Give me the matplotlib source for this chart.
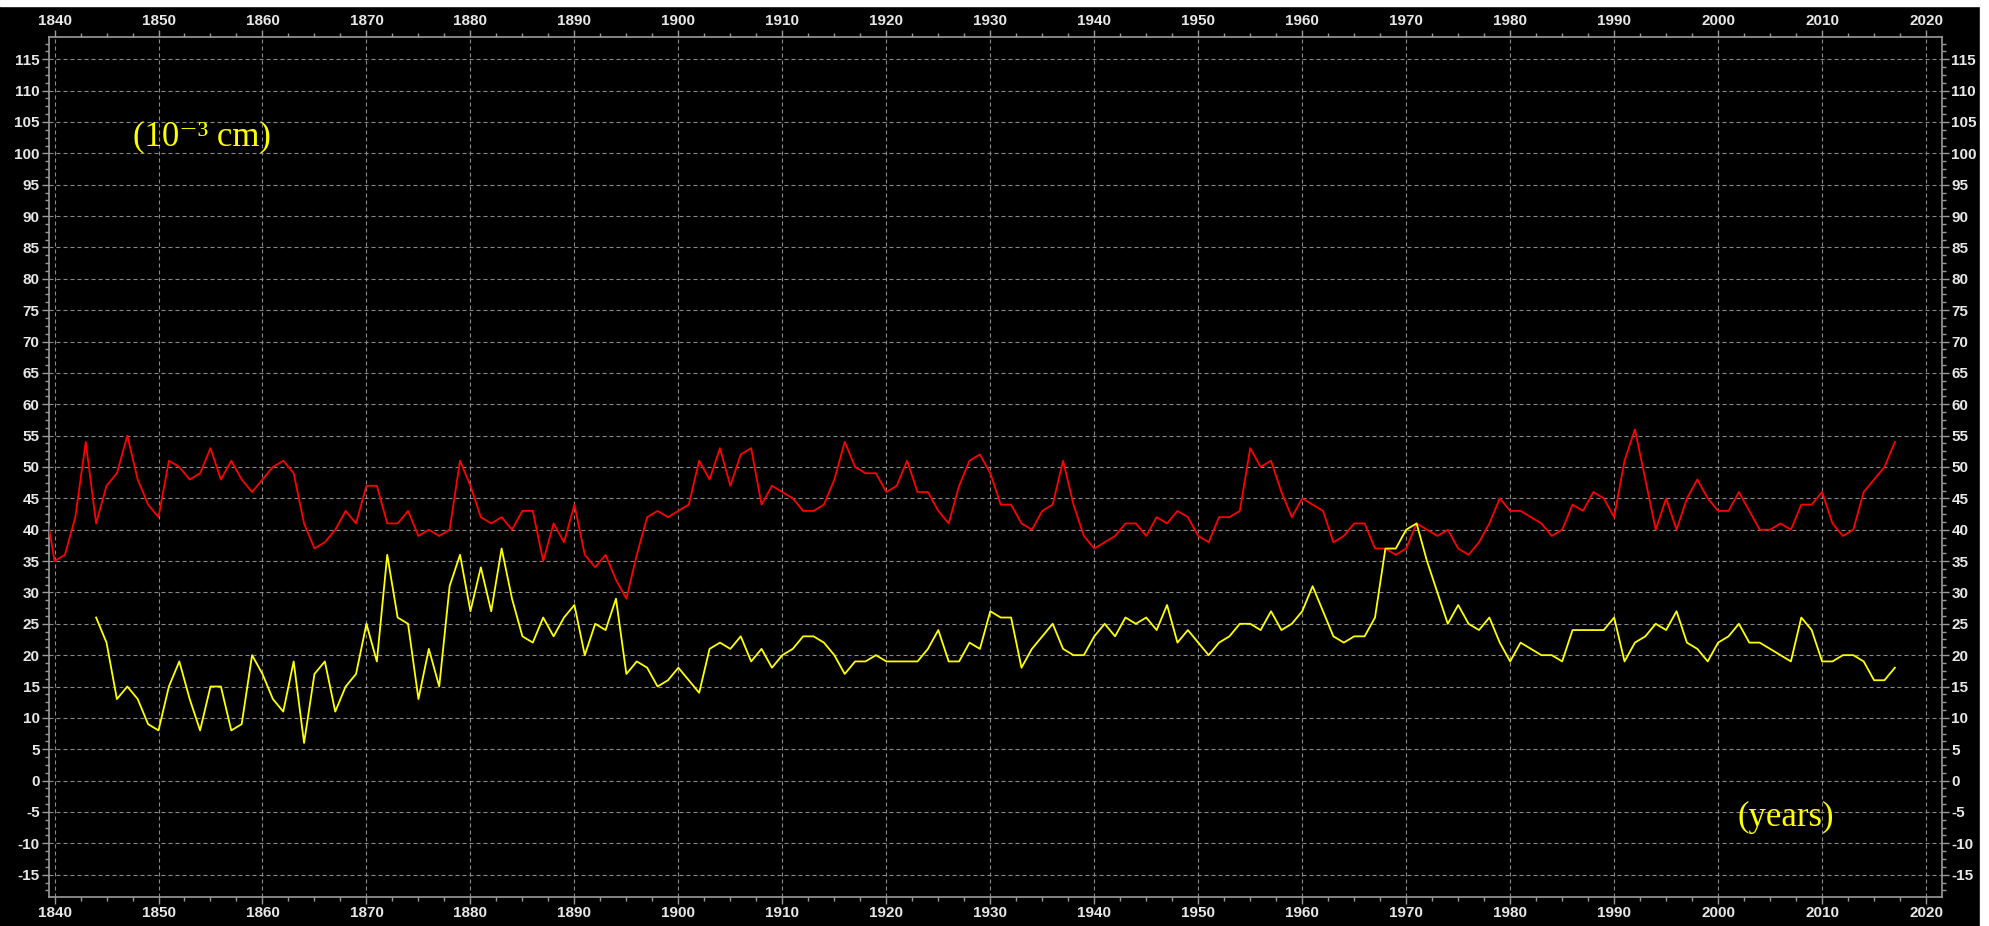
import matplotlib
matplotlib.use("Agg")
import matplotlib.pyplot as plt
from matplotlib.ticker import AutoMinorLocator
from matplotlib.patches import Rectangle
import numpy as np

# ring width series, 10^-3 cm
red_years = list(range(1839, 2018))
red_vals = [
    45, 35, 36, 42, 54, 41, 47, 49, 55, 48, 44,   # 1839-1849
    42, 51, 50, 48, 49, 53, 48, 51, 48, 46,       # 1850-1859
    48, 50, 51, 49, 41, 37, 38, 40, 43, 41,       # 1860-1869
    47, 47, 41, 41, 43, 39, 40, 39, 40, 51,       # 1870-1879
    47, 42, 41, 42, 40, 43, 43, 35, 41, 38,       # 1880-1889
    44, 36, 34, 36, 32, 29, 36, 42, 43, 42,       # 1890-1899
    43, 44, 51, 48, 53, 47, 52, 53, 44, 47,       # 1900-1909
    46, 45, 43, 43, 44, 48, 54, 50, 49, 49,       # 1910-1919
    46, 47, 51, 46, 46, 43, 41, 47, 51, 52,       # 1920-1929
    49, 44, 44, 41, 40, 43, 44, 51, 44, 39,       # 1930-1939
    37, 38, 39, 41, 41, 39, 42, 41, 43, 42,       # 1940-1949
    39, 38, 42, 42, 43, 53, 50, 51, 46, 42,       # 1950-1959
    45, 44, 43, 38, 39, 41, 41, 37, 37, 36,       # 1960-1969
    37, 41, 40, 39, 40, 37, 36, 38, 41, 45,       # 1970-1979
    43, 43, 42, 41, 39, 40, 44, 43, 46, 45,       # 1980-1989
    42, 51, 56, 48, 40, 45, 40, 45, 48, 45,       # 1990-1999
    43, 43, 46, 43, 40, 40, 41, 40, 44, 44,       # 2000-2009
    46, 41, 39, 40, 46, 48, 50, 54,               # 2010-2017
]

yellow_years = list(range(1844, 2018))
yellow_vals = [
    26, 22, 13, 15, 13, 9,                        # 1844-1849
    8, 15, 19, 13, 8, 15, 15, 8, 9, 20,           # 1850-1859
    17, 13, 11, 19, 6, 17, 19, 11, 15, 17,        # 1860-1869
    25, 19, 36, 26, 25, 13, 21, 15, 31, 36,       # 1870-1879
    27, 34, 27, 37, 29, 23, 22, 26, 23, 26,       # 1880-1889
    28, 20, 25, 24, 29, 17, 19, 18, 15, 16,       # 1890-1899
    18, 16, 14, 21, 22, 21, 23, 19, 21, 18,       # 1900-1909
    20, 21, 23, 23, 22, 20, 17, 19, 19, 20,       # 1910-1919
    19, 19, 19, 19, 21, 24, 19, 19, 22, 21,       # 1920-1929
    27, 26, 26, 18, 21, 23, 25, 21, 20, 20,       # 1930-1939
    23, 25, 23, 26, 25, 26, 24, 28, 22, 24,       # 1940-1949
    22, 20, 22, 23, 25, 25, 24, 27, 24, 25,       # 1950-1959
    27, 31, 27, 23, 22, 23, 23, 26, 37, 37,       # 1960-1969
    40, 41, 35, 30, 25, 28, 25, 24, 26, 22,       # 1970-1979
    19, 22, 21, 20, 20, 19, 24, 24, 24, 24,       # 1980-1989
    26, 19, 22, 23, 25, 24, 27, 22, 21, 19,       # 1990-1999
    22, 23, 25, 22, 22, 21, 20, 19, 26, 24,       # 2000-2009
    19, 19, 20, 20, 19, 16, 16, 18,               # 2010-2017
]

x_ticks = np.arange(1840, 2021, 10)
y_ticks = np.arange(-15, 116, 5)

plt.rcParams['axes.unicode_minus'] = False

fig = plt.figure(figsize=(19.89, 9.26), dpi=100, facecolor='black')
ax = fig.add_axes([0.0248, 0.0317, 0.9514, 0.928])
ax.set_facecolor('black')

ax.plot(red_years, red_vals, color='#ff0000', lw=1.3, zorder=3)
ax.plot(yellow_years, yellow_vals, color='#ffff00', lw=1.3, zorder=3)

ax.set_xlim(1839.5, 2021.5)
ax.set_ylim(-18.5, 118.5)
ax.set_xticks(x_ticks)
ax.set_yticks(y_ticks)
ax.xaxis.set_minor_locator(AutoMinorLocator(4))
ax.yaxis.set_minor_locator(AutoMinorLocator(4))

ax.grid(True, which='major', color='#8a8a8a', lw=0.8, linestyle=(0, (3.6, 2.7)))
for s in ax.spines.values():
    s.set_color('#9a9a9a')
    s.set_linewidth(1.2)

ax.tick_params(which='both', direction='out', color='#9a9a9a',
               top=True, bottom=True, left=True, right=True,
               labeltop=True, labelbottom=True, labelleft=True, labelright=True)
ax.tick_params(which='major', length=5, width=1, pad=2,
               labelsize=11, labelcolor='#e8e8e8')
ax.tick_params(which='minor', length=3, width=1)
for lbl in ax.get_xticklabels() + ax.get_yticklabels():
    lbl.set_fontfamily('Liberation Sans')
    lbl.set_fontweight('bold')

serif = dict(color='#ffff00', family=['Liberation Serif', 'DejaVu Serif'], fontsize=25)
# unit and axis captions
ax.text(1847.5, 101.3, '(10\u207b\u00b3 cm)', ha='left', va='baseline', **serif)
ax.text(2001.9, -5.9, '(years)', ha='left', va='center', **serif)

# thin white border along the top and right edges
fig.patches.append(Rectangle((0, 1 - 6 / 926), 1, 6 / 926, transform=fig.transFigure,
                             color='white', zorder=10))
fig.patches.append(Rectangle((1 - 9 / 1989, 0), 9 / 1989, 1, transform=fig.transFigure,
                             color='white', zorder=10))

fig.savefig('out.png', dpi=100, facecolor='black')
